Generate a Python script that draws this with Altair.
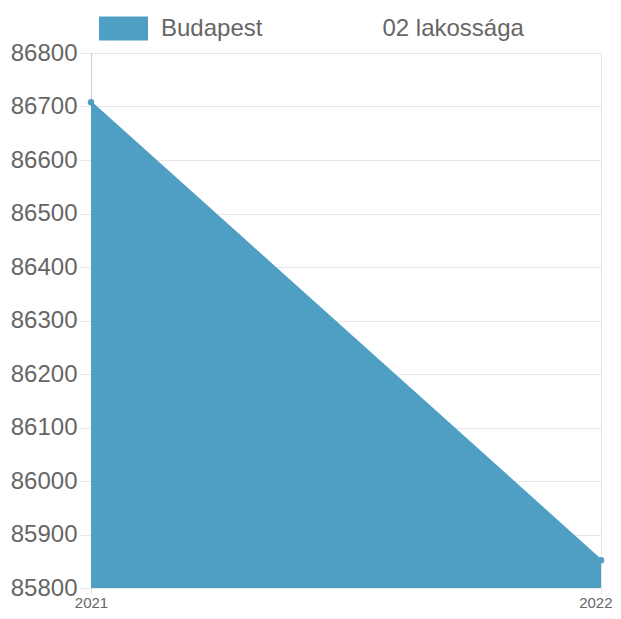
import altair as alt
import pandas as pd

years = ["2021", "2022"]
population = [86708, 85852]
series_name = "Budapest" + "\u00a0" * 18 + "02 lakossága"
y_ticks = [85800, 85900, 86000, 86100, 86200, 86300, 86400, 86500, 86600, 86700, 86800]

df = pd.DataFrame({"year": years, "pop": population, "series": [series_name] * len(years)})

COLOR = "#4F9FC4"
TEXT = "#666666"
GRID = "#e6e6e6"
FONT = "Liberation Sans"
last_year = years[-1]

chart = alt.Chart(df).mark_area(
    opacity=1,
    line={"color": COLOR, "strokeWidth": 2},
    point=alt.OverlayMarkDef(filled=True, size=42, color=COLOR, opacity=1),
).encode(
    x=alt.X(
        "year:O",
        scale=alt.Scale(type="point", padding=0),
        axis=alt.Axis(
            title=None, labelAngle=0, labelFontSize=15, labelColor=TEXT, labelFont=FONT,
            tickSize=6, tickColor=GRID, labelPadding=1, domain=False,
            grid=True, gridColor=GRID, labelFlush=False,
            labelAlign={"condition": {"test": f"datum.value == '{last_year}'", "value": "right"}, "value": "center"},
            labelOffset={"condition": {"test": f"datum.value == '{last_year}'", "value": 11}, "value": 0},
        ),
    ),
    y=alt.Y(
        "pop:Q",
        scale=alt.Scale(domain=[85800, 86800], zero=False, nice=False),
        axis=alt.Axis(
            title=None, values=y_ticks, format="d", labelFontSize=24, labelColor=TEXT,
            labelFont=FONT, tickSize=11, tickColor=GRID, labelPadding=3,
            domainColor="#cccccc", gridColor=GRID, labelFlush=False,
        ),
    ),
    y2=alt.datum(85800),
    color=alt.Color(
        "series:N",
        scale=alt.Scale(range=[COLOR]),
        legend=alt.Legend(
            title=None, orient="none", legendX=8, legendY=-49, padding=0,
            symbolType="M-1,-0.49H1V0.49H-1Z", symbolSize=2401, symbolStrokeWidth=0,
            symbolOpacity=1, symbolFillColor=COLOR,
            labelFontSize=24, labelColor=TEXT, labelFont=FONT, labelOffset=13,
            labelLimit=0,
        ),
    ),
).properties(
    width=510,
    height=535,
    autosize=alt.AutoSizeParams(type="none"),
    padding={"left": 83, "top": 45, "right": 12, "bottom": 22},
).configure_view(stroke=None)

chart.save("out.html", embed_options={"renderer": "svg", "actions": False})
